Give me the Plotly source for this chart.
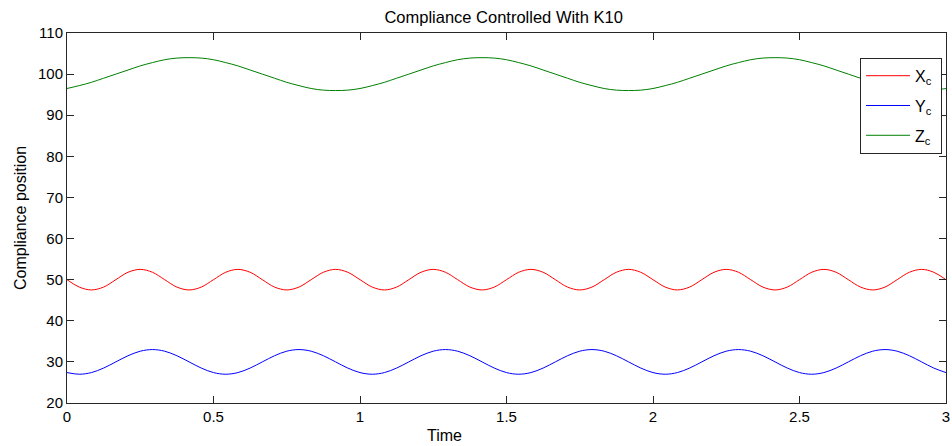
import plotly.graph_objects as go

time = [0.0, 0.0417, 0.0833, 0.125, 0.1667, 0.2083, 0.25, 0.2917, 0.3333, 0.375, 0.4167, 0.4583,
        0.5, 0.5417, 0.5833, 0.625, 0.6667, 0.7083, 0.75, 0.7917, 0.8333, 0.875, 0.9167, 0.9583,
        1.0, 1.0417, 1.0833, 1.125, 1.1667, 1.2083, 1.25, 1.2917, 1.3333, 1.375, 1.4167, 1.4583,
        1.5, 1.5417, 1.5833, 1.625, 1.6667, 1.7083, 1.75, 1.7917, 1.8333, 1.875, 1.9167, 1.9583,
        2.0, 2.0417, 2.0833, 2.125, 2.1667, 2.2083, 2.25, 2.2917, 2.3333, 2.375, 2.4167, 2.4583,
        2.5, 2.5417, 2.5833, 2.625, 2.6667, 2.7083, 2.75, 2.7917, 2.8333, 2.875, 2.9167, 2.9583,
        3.0]

x_c = [50, 48.2, 47.5, 48.2, 50, 51.8, 52.5, 51.8,
       50, 48.2, 47.5, 48.2, 50, 51.8, 52.5, 51.8,
       50, 48.2, 47.5, 48.2, 50, 51.8, 52.5, 51.8,
       50, 48.2, 47.5, 48.2, 50, 51.8, 52.5, 51.8,
       50, 48.2, 47.5, 48.2, 50, 51.8, 52.5, 51.8,
       50, 48.2, 47.5, 48.2, 50, 51.8, 52.5, 51.8,
       50, 48.2, 47.5, 48.2, 50, 51.8, 52.5, 51.8,
       50, 48.2, 47.5, 48.2, 50, 51.8, 52.5, 51.8,
       50, 48.2, 47.5, 48.2, 50, 51.8, 52.5, 51.8,
       50]

y_c = [27.4, 27.0, 27.4, 28.5, 30.0, 31.5, 32.6, 33.0, 32.6, 31.5, 30.0, 28.5,
       27.4, 27.0, 27.4, 28.5, 30.0, 31.5, 32.6, 33.0, 32.6, 31.5, 30.0, 28.5,
       27.4, 27.0, 27.4, 28.5, 30.0, 31.5, 32.6, 33.0, 32.6, 31.5, 30.0, 28.5,
       27.4, 27.0, 27.4, 28.5, 30.0, 31.5, 32.6, 33.0, 32.6, 31.5, 30.0, 28.5,
       27.4, 27.0, 27.4, 28.5, 30.0, 31.5, 32.6, 33.0, 32.6, 31.5, 30.0, 28.5,
       27.4, 27.0, 27.4, 28.5, 30.0, 31.5, 32.6, 33.0, 32.6, 31.5, 30.0, 28.5,
       27.4]

z_c = [96.5, 97.2, 98.0, 99.0, 100.0, 101.0, 102.0, 102.8, 103.5, 103.9, 104.0, 103.9,
       103.5, 102.8, 102.0, 101.0, 100.0, 99.0, 98.0, 97.2, 96.5, 96.1, 96.0, 96.1,
       96.5, 97.2, 98.0, 99.0, 100.0, 101.0, 102.0, 102.8, 103.5, 103.9, 104.0, 103.9,
       103.5, 102.8, 102.0, 101.0, 100.0, 99.0, 98.0, 97.2, 96.5, 96.1, 96.0, 96.1,
       96.5, 97.2, 98.0, 99.0, 100.0, 101.0, 102.0, 102.8, 103.5, 103.9, 104.0, 103.9,
       103.5, 102.8, 102.0, 101.0, 100.0, 99.0, 98.0, 97.2, 96.5, 96.1, 96.0, 96.1,
       96.5]

series = [("X<sub>c</sub>&nbsp;", x_c, "rgb(255,0,0)"),
          ("Y<sub>c</sub>&nbsp;", y_c, "rgb(0,0,255)"),
          ("Z<sub>c</sub>&nbsp;", z_c, "rgb(0,128,0)")]

x_ticks = [0, 0.5, 1, 1.5, 2, 2.5, 3]
x_tick_labels = ["0", "0.5", "1", "1.5", "2", "2.5", "3"]
y_ticks = [20, 30, 40, 50, 60, 70, 80, 90, 100, 110]

fig = go.Figure()
for i, (name, vals, col) in enumerate(series):
    fig.add_trace(go.Scatter(x=time, y=vals, mode="lines", name=name,
                             legendgroup=str(i),
                             line=dict(color=col, width=1, shape="spline", smoothing=1.0)))

font = "Liberation Sans, Arial, sans-serif"
axis_common = dict(showline=True, linecolor="#262626", linewidth=1, mirror="allticks",
                   ticks="inside", ticklen=7, tickcolor="#262626", showgrid=False,
                   zeroline=False, automargin=False, ticklabeloverflow="allow",
                   tickfont=dict(family=font, size=15, color="black"))

fig.update_layout(
    width=952, height=446,
    margin=dict(l=67, r=6, t=33, b=43),
    paper_bgcolor="white", plot_bgcolor="white",
    title=dict(text="Compliance Controlled With K10", x=0.529, xanchor="center",
               y=0.962, yanchor="middle", automargin=False,
               font=dict(family=font, size=16.5, color="black")),
    xaxis=dict(range=[0, 3], tickvals=x_ticks, ticktext=x_tick_labels, **axis_common),
    yaxis=dict(range=[20, 110], tickvals=y_ticks, **axis_common),
    legend=dict(x=0.9955, xanchor="right", y=0.933, yanchor="top",
                bgcolor="white", bordercolor="#262626", borderwidth=1,
                font=dict(family=font, size=16, color="black"),
                tracegroupgap=6, itemwidth=44),
    showlegend=True,
    annotations=[
        dict(text="Time", xref="paper", yref="paper", x=0.4295, y=-0.088,
             xanchor="center", yanchor="middle", showarrow=False,
             font=dict(family=font, size=16, color="black")),
        dict(text="Compliance position", xref="paper", yref="paper", x=-0.0535, y=0.5,
             xanchor="center", yanchor="middle", showarrow=False, textangle=-90,
             font=dict(family=font, size=16, color="black")),
    ],
)

fig.write_html("out.html", config={"displayModeBar": False},
               post_script="document.body.style.margin='0px';document.body.style.padding='0px';")
